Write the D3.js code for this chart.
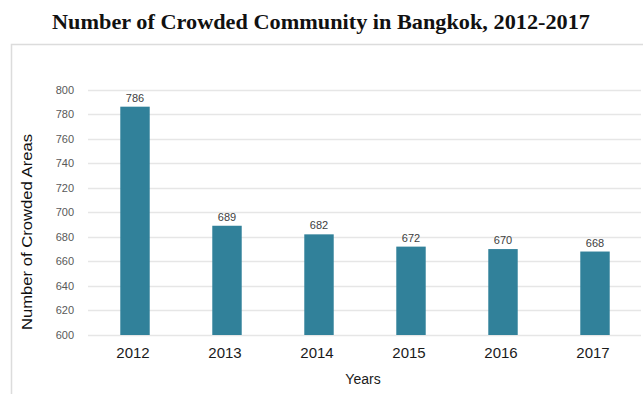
<!DOCTYPE html>
<html>
<head>
<meta charset="utf-8">
<script src="https://cdn.jsdelivr.net/npm/d3@7"></script>
<style>
  body { margin: 0; background: #fff; }
  svg { display: block; }
</style>
</head>
<body>
<div class="main"></div>
<script>
const years = ['2012', '2013', '2014', '2015', '2016', '2017'];
const crowdedAreas = [786, 689, 682, 672, 670, 668];
const yTicks = [600, 620, 640, 660, 680, 700, 720, 740, 760, 780, 800];

const width = 643, height = 394;

const svg = d3.select('.main').append('svg')
  .attr('width', width)
  .attr('height', height);

// frame around the chart area
svg.append('path')
  .attr('d', `M11.5,${height} V44.5 H${width}`)
  .attr('fill', 'none')
  .attr('stroke', '#dcdcdc')
  .attr('stroke-width', 1.5);

// title
svg.append('text')
  .attr('x', 321)
  .attr('y', 29)
  .attr('text-anchor', 'middle')
  .attr('font-family', '"Liberation Serif", "Times New Roman", serif')
  .attr('font-weight', 'bold')
  .attr('font-size', 22)
  .attr('textLength', 538)
  .attr('lengthAdjust', 'spacingAndGlyphs')
  .attr('fill', '#111')
  .text('Number of Crowded Community in Bangkok, 2012-2017');

const x = d3.scaleBand().domain(years).range([89, 641]).paddingInner(0.68).paddingOuter(0.34);
const y = d3.scaleLinear().domain([600, 800]).range([335, 89.5]);

// grid lines
svg.append('g')
  .selectAll('line')
  .data(yTicks)
  .join('line')
  .attr('x1', 88)
  .attr('x2', 641)
  .attr('y1', d => Math.round(y(d)) + 0.5)
  .attr('y2', d => Math.round(y(d)) + 0.5)
  .attr('stroke', '#e6e6e6')
  .attr('stroke-width', 1.3);

// y axis labels
const yAxis = svg.append('g')
  .attr('transform', 'translate(74,0)')
  .call(d3.axisLeft(y).tickValues(yTicks).tickSize(0).tickPadding(0));
yAxis.select('.domain').remove();
yAxis.selectAll('text')
  .attr('font-family', 'Arial, "Liberation Sans", sans-serif')
  .attr('font-size', 11)
  .attr('fill', '#595959');

// bars
svg.append('g')
  .selectAll('rect')
  .data(crowdedAreas)
  .join('rect')
  .attr('x', (d, i) => x(years[i]))
  .attr('y', d => y(d))
  .attr('width', x.bandwidth())
  .attr('height', d => y(600) - y(d))
  .attr('fill', '#31819a');

// value labels
svg.append('g')
  .selectAll('text')
  .data(crowdedAreas)
  .join('text')
  .attr('x', (d, i) => x(years[i]) + x.bandwidth() / 2)
  .attr('y', d => y(d) - 5)
  .attr('text-anchor', 'middle')
  .attr('font-family', 'Arial, "Liberation Sans", sans-serif')
  .attr('font-size', 11)
  .attr('fill', '#404040')
  .text(d => d);

// x axis labels
const xAxis = svg.append('g')
  .attr('transform', 'translate(-2,343)')
  .call(d3.axisBottom(x).tickSize(0).tickPadding(0));
xAxis.select('.domain').remove();
xAxis.selectAll('text')
  .attr('dy', '1em')
  .attr('font-family', 'Arial, "Liberation Sans", sans-serif')
  .attr('font-size', 15)
  .attr('fill', '#1a1a1a');

// axis titles
svg.append('text')
  .attr('x', 363)
  .attr('y', 384)
  .attr('text-anchor', 'middle')
  .attr('font-family', 'Arial, "Liberation Sans", sans-serif')
  .attr('font-size', 14)
  .attr('fill', '#1a1a1a')
  .text('Years');

svg.append('text')
  .attr('transform', 'translate(32,232) rotate(-90)')
  .attr('text-anchor', 'middle')
  .attr('font-family', 'Arial, "Liberation Sans", sans-serif')
  .attr('font-size', 14)
  .attr('textLength', 196)
  .attr('lengthAdjust', 'spacingAndGlyphs')
  .attr('fill', '#111')
  .text('Number of Crowded Areas');
</script>
</body>
</html>
